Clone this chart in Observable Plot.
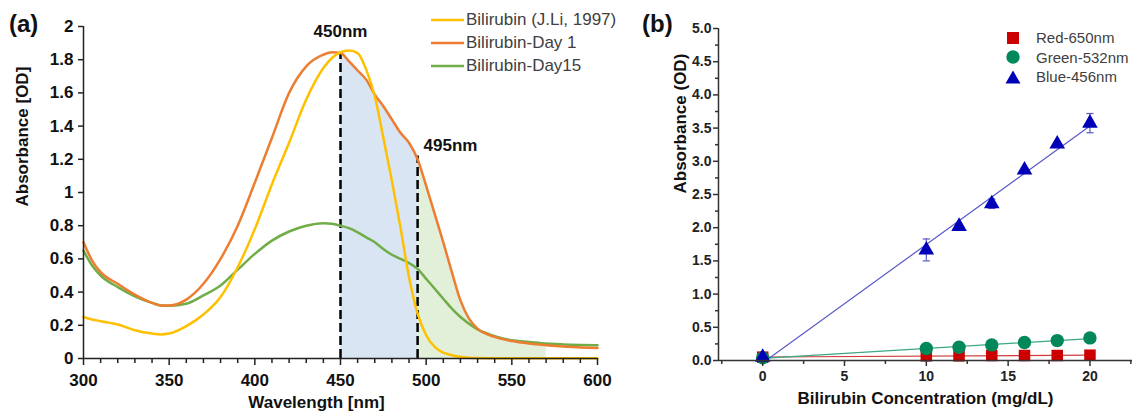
<!DOCTYPE html>
<html><head><meta charset="utf-8">
<script src="https://cdn.jsdelivr.net/npm/d3@7"></script>
<script src="https://cdn.jsdelivr.net/npm/@observablehq/plot@0.6"></script>
<style>
body{margin:0;background:#fff;font-family:"Liberation Sans",Arial,sans-serif;}
#wrap{position:relative;width:1147px;height:420px;overflow:hidden;background:#fff;}
.panel{position:absolute;top:0;}
.tag{position:absolute;font-weight:bold;font-size:24px;line-height:24px;color:#111;}
.legend{position:absolute;color:#404040;}
.legend .row{display:flex;align-items:center;white-space:nowrap;}
</style></head><body><div id="wrap"></div>
<script>
// ---------- Panel (a) data ----------
const wavelength = [300,305,310,320,330,340,345,350,360,370,380,390,400,410,420,430,440,445,450,455,460,465,470,475,480,485,490,495,500,505,510,515,520,525,530,540,550,560,570,580,590,600];
const jLi1997 = [0.25,0.235,0.225,0.205,0.17,0.15,0.145,0.15,0.195,0.265,0.37,0.55,0.78,1.05,1.30,1.56,1.75,1.81,1.845,1.855,1.84,1.74,1.58,1.33,1.07,0.79,0.49,0.27,0.14,0.07,0.035,0.02,0.01,0.005,0.003,0.002,0.001,0.001,0.001,0.001,0.001,0.001];
const day1 = [0.70,0.59,0.52,0.45,0.385,0.335,0.32,0.32,0.355,0.45,0.60,0.80,1.06,1.33,1.60,1.76,1.83,1.845,1.84,1.79,1.735,1.68,1.59,1.52,1.44,1.36,1.30,1.20,1.04,0.87,0.70,0.52,0.35,0.24,0.18,0.13,0.105,0.09,0.08,0.072,0.067,0.063];
const day15 = [0.65,0.56,0.50,0.43,0.375,0.335,0.32,0.318,0.33,0.38,0.44,0.535,0.63,0.71,0.765,0.80,0.815,0.812,0.80,0.785,0.76,0.73,0.70,0.66,0.625,0.60,0.575,0.54,0.48,0.42,0.36,0.30,0.25,0.21,0.175,0.135,0.11,0.10,0.09,0.085,0.082,0.08];
const seriesNamesA = ["Bilirubin (J.Li, 1997)", "Bilirubin-Day 1", "Bilirubin-Day15"];
const seriesColorsA = ["#FFC000", "#ED7D31", "#70AD47"];
const peakNm = [450, 495];
const peakTop = [1.84, 1.22];
const peakLabels = ["450nm", "495nm"];
const blueBand = [450, 495];
const greenBand = [495, 570];
const xTicksA = [300,350,400,450,500,550,600];
const xMinorA = [310,320,330,340,360,370,380,390,410,420,430,440,460,470,480,490,510,520,530,540,560,570,580,590];
const yTicksA = [0,0.2,0.4,0.6,0.8,1,1.2,1.4,1.6,1.8,2];

// ---------- Panel (b) data ----------
const concentration = [0,10,12,14,16,18,20];
const red650 = [0.05,0.07,0.07,0.075,0.075,0.075,0.08];
const green532 = [0.04,0.18,0.20,0.235,0.27,0.30,0.34];
const blue456 = [0.05,1.665,2.02,2.36,2.87,3.26,3.575];
const blue456Err = [0.03,0.165,0.03,0.07,0.03,0.03,0.145];
const seriesNamesB = ["Red-650nm", "Green-532nm", "Blue-456nm"];
const seriesColorsB = ["#CC0000", "#00875A", "#0000B8"];
const lineColorsB = ["#D03C3C", "#3AA882", "#5858C8"];
const xTicksB = [0,5,10,15,20];
const xMinorB = [-2.5,2.5,7.5,12.5,17.5,22.5];
const yTicksB = [0,0.5,1,1.5,2,2.5,3,3.5,4,4.5,5];
const yMinorB = [0.25,0.75,1.25,1.75,2.25,2.75,3.25,3.75,4.25,4.75];

const FONT = "Liberation Sans, Arial, sans-serif";
const wrap = document.getElementById("wrap");

// ---------- Panel (a) ----------
const rowsA = wavelength.map((w, i) => ({w, j: jLi1997[i], d1: day1[i], d15: day15[i]}));
const curve = "monotone-x";
const peaks = peakNm.map((nm, i) => ({nm, top: peakTop[i], label: peakLabels[i]}));
const plotA = Plot.plot({
  width: 620, height: 420,
  marginLeft: 83, marginRight: 23, marginTop: 26, marginBottom: 62,
  x: {domain: [300, 600]},
  y: {domain: [0, 2]},
  style: {fontFamily: FONT, color: "#111", background: "transparent", overflow: "visible"},
  marks: [
    Plot.areaY(rowsA.filter(d => d.w >= blueBand[0] && d.w <= blueBand[1]), {x: "w", y: "d1", fill: "#DAE5F3", curve}),
    Plot.areaY(rowsA.filter(d => d.w >= greenBand[0] && d.w <= greenBand[1]), {x: "w", y: "d1", fill: "#E2F0D9", curve}),
    Plot.ruleX(peaks, {x: "nm", y1: 0, y2: "top", stroke: "#000", strokeWidth: 2.5, strokeDasharray: "9,4"}),
    Plot.line(rowsA, {x: "w", y: "d15", stroke: seriesColorsA[2], strokeWidth: 2.5, curve}),
    Plot.line(rowsA, {x: "w", y: "d1", stroke: seriesColorsA[1], strokeWidth: 2.5, curve}),
    Plot.line(rowsA, {x: "w", y: "j", stroke: seriesColorsA[0], strokeWidth: 2.5, curve}),
    Plot.text(peaks.slice(0, 1), {x: "nm", y: "top", text: "label", dy: -22, fontSize: 17, fontWeight: "bold", fill: "#111"}),
    Plot.text(peaks.slice(1, 2), {x: "nm", y: "top", text: "label", dx: 6, dy: -10, textAnchor: "start", fontSize: 17, fontWeight: "bold", fill: "#111"}),
    Plot.ruleX([300], {y1: 0, y2: 2, stroke: "#222", strokeWidth: 1.5}),
    Plot.ruleY([0], {stroke: "#222", strokeWidth: 1.5}),
    Plot.axisX({ticks: xTicksA, tickSize: 7, tickPadding: 8, tickFormat: d => String(d), fontSize: 17, fontWeight: "bold", label: null, stroke: "#222", strokeWidth: 1.5}),
    Plot.axisX({ticks: xMinorA, tickSize: 5, tickFormat: () => "", label: null, stroke: "#222", strokeWidth: 1.5}),
    Plot.axisY({ticks: yTicksA, tickSize: 5, tickPadding: 5, tickFormat: d => String(+d.toFixed(1)), fontSize: 17, fontWeight: "bold", label: null, stroke: "#222", strokeWidth: 1.5}),
    Plot.text(["Wavelength [nm]"], {text: d => d, frameAnchor: "bottom", dx: -24, dy: 49, fontSize: 17, fontWeight: "bold", fill: "#111"}),
    Plot.text(["Absorbance [OD]"], {text: d => d, frameAnchor: "left", rotate: -90, dx: -61, dy: 14, fontSize: 17, fontWeight: "bold", fill: "#111"})
  ]
});
plotA.classList.add("panel");
plotA.style.left = "0px";
wrap.appendChild(plotA);

// ---------- Panel (b) ----------
const rowsB = concentration.map((c, i) => ({c, r: red650[i], g: green532[i], b: blue456[i], e: blue456Err[i]}));
const plotB = Plot.plot({
  width: 527, height: 420,
  marginLeft: 98, marginRight: 15, marginTop: 28, marginBottom: 60,
  x: {domain: [-2.7, 22.6]},
  y: {domain: [0, 5]},
  style: {fontFamily: FONT, color: "#111", background: "transparent", overflow: "visible"},
  marks: [
    Plot.linearRegressionY(rowsB, {x: "c", y: "r", stroke: lineColorsB[0], strokeWidth: 1.2, ci: 0, clip: true}),
    Plot.linearRegressionY(rowsB, {x: "c", y: "g", stroke: lineColorsB[1], strokeWidth: 1.2, ci: 0, clip: true}),
    Plot.linearRegressionY(rowsB, {x: "c", y: "b", stroke: lineColorsB[2], strokeWidth: 1.2, ci: 0, clip: true}),
    Plot.ruleX(rowsB, {x: "c", y1: d => d.b - d.e, y2: d => d.b + d.e, stroke: lineColorsB[2], strokeWidth: 1.2}),
    Plot.link(rowsB, {x1: d => d.c - 0.22, x2: d => d.c + 0.22, y1: d => d.b - d.e, y2: d => d.b - d.e, stroke: lineColorsB[2], strokeWidth: 1.2}),
    Plot.link(rowsB, {x1: d => d.c - 0.22, x2: d => d.c + 0.22, y1: d => d.b + d.e, y2: d => d.b + d.e, stroke: lineColorsB[2], strokeWidth: 1.2}),
    Plot.dot(rowsB, {x: "c", y: "r", symbol: "square", r: 6.5, fill: seriesColorsB[0], stroke: "none"}),
    Plot.dot(rowsB, {x: "c", y: "g", symbol: "circle", r: 6.7, fill: seriesColorsB[1], stroke: "none"}),
    Plot.dot(rowsB, {x: "c", y: "b", symbol: "triangle", r: 5.8, fill: seriesColorsB[2], stroke: "none"}),
    Plot.ruleX([-2.7], {y1: 0, y2: 5, stroke: "#333", strokeWidth: 1.5}),
    Plot.ruleY([0], {stroke: "#333", strokeWidth: 1.5}),
    Plot.axisX({ticks: xTicksB, tickSize: 6, tickPadding: 5, tickFormat: d => String(d), fontSize: 14, fontWeight: "bold", label: null, stroke: "#333", strokeWidth: 1.5, fill: "#222"}),
    Plot.axisX({ticks: xMinorB, tickSize: 4, tickFormat: () => "", label: null, stroke: "#333", strokeWidth: 1.5}),
    Plot.axisY({ticks: yTicksB, tickSize: 5, tickPadding: 2, tickFormat: d => d.toFixed(1), fontSize: 14, fontWeight: "bold", label: null, stroke: "#333", strokeWidth: 1.5, fill: "#222"}),
    Plot.axisY({ticks: yMinorB, tickSize: 3, tickFormat: () => "", label: null, stroke: "#333", strokeWidth: 1.5}),
    Plot.text(["Bilirubin Concentration (mg/dL)"], {text: d => d, frameAnchor: "bottom", dy: 43, fontSize: 17, fontWeight: "bold", fill: "#111"}),
    Plot.text(["Absorbance (OD)"], {text: d => d, frameAnchor: "left", rotate: -90, dx: -38, dy: -1, fontSize: 17, fontWeight: "bold", fill: "#111"})
  ]
});
plotB.classList.add("panel");
plotB.style.left = "620px";
wrap.appendChild(plotB);

// ---------- Panel tags ----------
[["(a)", 9], ["(b)", 642]].forEach(([t, left]) => {
  const d = document.createElement("div");
  d.className = "tag"; d.textContent = t;
  d.style.left = left + "px"; d.style.top = "12px";
  wrap.appendChild(d);
});

// ---------- Legend (a) ----------
const legA = document.createElement("div");
legA.className = "legend";
legA.style.left = "430px"; legA.style.top = "8px"; legA.style.fontSize = "17px";
seriesNamesA.forEach((n, i) => {
  const row = document.createElement("div");
  row.className = "row"; row.style.height = "23px";
  row.innerHTML = `<svg width="35" height="6" style="margin-right:1px"><line x1="1" y1="3" x2="34" y2="3" stroke="${seriesColorsA[i]}" stroke-width="2.5"/></svg><span>${n}</span>`;
  legA.appendChild(row);
});
wrap.appendChild(legA);

// ---------- Legend (b) ----------
const symbolsB = [
  c => `<rect x="2" y="2" width="12" height="12" fill="${c}"/>`,
  c => `<circle cx="8" cy="8" r="6.7" fill="${c}"/>`,
  c => `<path d="M8 1.5 L15.5 14.5 L0.5 14.5 Z" fill="${c}"/>`
];
const legB = document.createElement("div");
legB.className = "legend";
legB.style.left = "1005px"; legB.style.top = "28px"; legB.style.fontSize = "15px";
seriesNamesB.forEach((n, i) => {
  const row = document.createElement("div");
  row.className = "row"; row.style.height = "19.5px";
  row.innerHTML = `<svg width="16" height="16" style="margin-right:15px">${symbolsB[i](seriesColorsB[i])}</svg><span>${n}</span>`;
  legB.appendChild(row);
});
wrap.appendChild(legB);
</script>
</body></html>
